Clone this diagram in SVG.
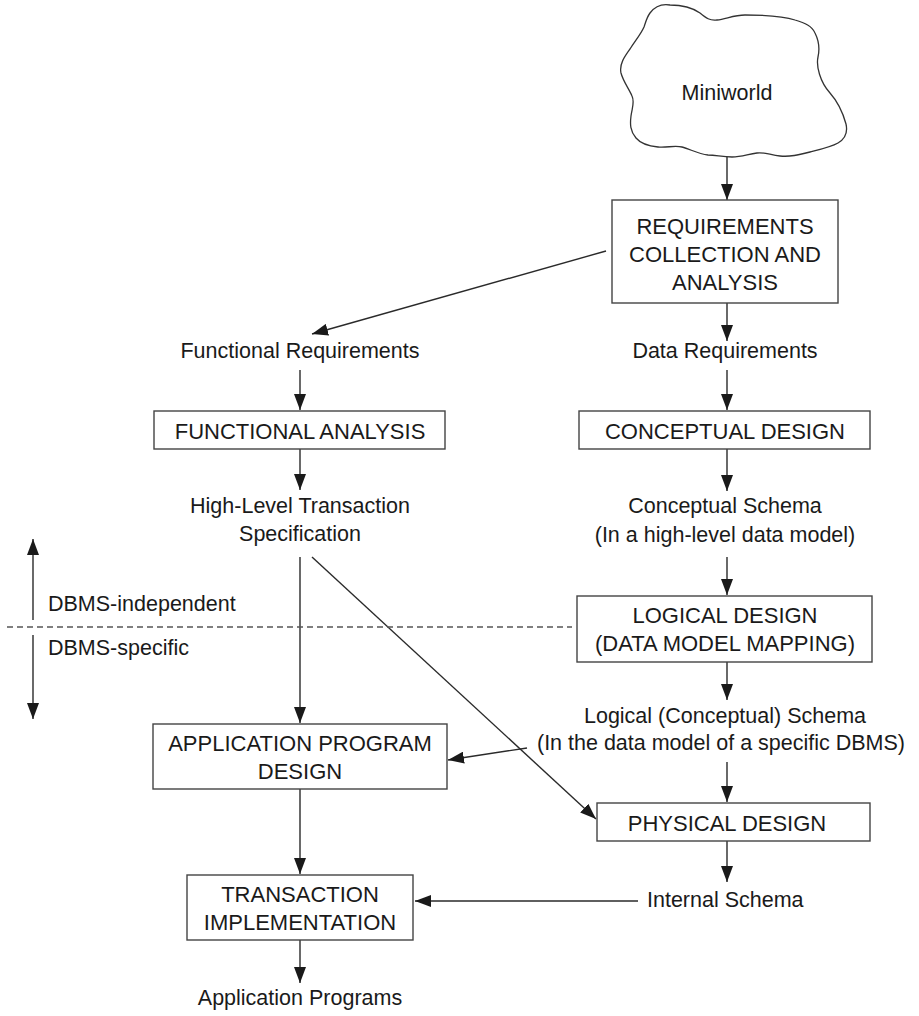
<svg xmlns="http://www.w3.org/2000/svg" width="919" height="1016" viewBox="0 0 919 1016">
<style>
  .box { fill: #ffffff; stroke: #444; stroke-width: 1.4; }
  .cloud { fill: #ffffff; stroke: #333; stroke-width: 1.3; }
  .up { font-family: "Liberation Sans", Arial, Helvetica, sans-serif; font-size: 22px; fill: #1a1a1a; text-anchor: middle; }
  .lo { font-family: "Liberation Sans", Arial, Helvetica, sans-serif; font-size: 21.5px; fill: #1a1a1a; text-anchor: middle; }
  .lt { font-family: "Liberation Sans", Arial, Helvetica, sans-serif; font-size: 21.5px; fill: #1a1a1a; text-anchor: start; }
  .arr { fill: none; stroke: #2a2a2a; stroke-width: 1.4; marker-end: url(#ah); }
  .dash { fill: none; stroke: #555; stroke-width: 1.4; stroke-dasharray: 6 4; }
</style>
<defs>
  <marker id="ah" viewBox="0 0 16 12" refX="16" refY="6" markerWidth="16" markerHeight="12" markerUnits="userSpaceOnUse" orient="auto">
    <path d="M0,0 L16,6 L0,12 z" fill="#1a1a1a"/>
  </marker>
</defs>
<rect width="919" height="1016" fill="#ffffff"/>

<g id="connectors">
  <line class="arr" x1="727" y1="157" x2="727" y2="200"/>
  <line class="arr" x1="606" y1="251" x2="312" y2="334"/>
  <line class="arr" x1="727" y1="303" x2="727" y2="341"/>
  <line class="arr" x1="300" y1="370" x2="300" y2="410"/>
  <line class="arr" x1="727" y1="370" x2="727" y2="410"/>
  <line class="arr" x1="300" y1="449" x2="300" y2="490"/>
  <line class="arr" x1="727" y1="449" x2="727" y2="491"/>
  <line class="arr" x1="727" y1="557" x2="727" y2="595"/>
  <line class="arr" x1="300" y1="557" x2="300" y2="723"/>
  <line class="arr" x1="312" y1="557" x2="596" y2="819"/>
  <line class="arr" x1="727" y1="662" x2="727" y2="700"/>
  <line class="arr" x1="527" y1="748" x2="448" y2="760"/>
  <line class="arr" x1="727" y1="762" x2="727" y2="802"/>
  <line class="arr" x1="300" y1="789" x2="300" y2="874"/>
  <line class="arr" x1="727" y1="841" x2="727" y2="882"/>
  <line class="arr" x1="638" y1="901" x2="415" y2="901"/>
  <line class="arr" x1="300" y1="940" x2="300" y2="983"/>
  <line class="dash" x1="7" y1="627" x2="572" y2="627"/>
  <line class="arr" x1="33" y1="620" x2="33" y2="539"/>
  <line class="arr" x1="33" y1="635" x2="33" y2="719"/>
</g>

<g id="miniworld">
  <path class="cloud" d="M650,13 C656,5 664,4 670,5 C680,5 690,6 700,13 C706,18 710,21 717,20 C726,19 734,15 745,15 C758,15 780,15 795,20 C805,23 812,26 815,33 C819,41 820,48 818,57 C816,66 820,82 830,93 C838,102 843,113 846,124 C848,133 845,139 838,143 C831,147 822,149 810,152 C798,155 790,157 780,156 C770,155 765,152 757,153 C748,154 742,157 732,157 C722,157 716,155 708,155 C698,154 690,149 682,147 C674,145 667,148 658,147 C648,146 641,144 636,138 C630,131 630,124 631,116 C632,108 635,102 632,96 C629,89 623,81 621,73 C619,64 625,56 630,49 C635,41 641,34 644,27 C646,21 647,17 650,13 Z"/>
  <text class="lo" x="727" y="100">Miniworld</text>
</g>

<g id="requirements">
  <rect class="box" x="612" y="200" width="226" height="103"/>
  <text class="up" x="725" y="234">REQUIREMENTS</text>
  <text class="up" x="725" y="262">COLLECTION AND</text>
  <text class="up" x="725" y="290">ANALYSIS</text>
</g>

<g id="functional-requirements">
  <text class="lo" x="300" y="358">Functional Requirements</text>
</g>

<g id="data-requirements">
  <text class="lo" x="725" y="358">Data Requirements</text>
</g>

<g id="functional-analysis">
  <rect class="box" x="154" y="411" width="291" height="38"/>
  <text class="up" x="300" y="439">FUNCTIONAL ANALYSIS</text>
</g>

<g id="conceptual-design">
  <rect class="box" x="579" y="411" width="291" height="38"/>
  <text class="up" x="725" y="439">CONCEPTUAL DESIGN</text>
</g>

<g id="transaction-spec">
  <text class="lo" x="300" y="513">High-Level Transaction</text>
  <text class="lo" x="300" y="541">Specification</text>
</g>

<g id="conceptual-schema">
  <text class="lo" x="725" y="513">Conceptual Schema</text>
  <text class="lo" x="725" y="542">(In a high-level data model)</text>
</g>

<g id="dbms-scope">
  <text class="lt" x="48" y="611">DBMS-independent</text>
  <text class="lt" x="48" y="655">DBMS-specific</text>
</g>

<g id="logical-design">
  <rect class="box" x="577" y="596" width="295" height="66"/>
  <text class="up" x="725" y="623">LOGICAL DESIGN</text>
  <text class="up" x="725" y="651">(DATA MODEL MAPPING)</text>
</g>

<g id="logical-schema">
  <text class="lo" x="725" y="723">Logical (Conceptual) Schema</text>
  <text class="lo" x="721" y="750">(In the data model of a specific DBMS)</text>
</g>

<g id="application-program-design">
  <rect class="box" x="153" y="724" width="294" height="65"/>
  <text class="up" x="300" y="751">APPLICATION PROGRAM</text>
  <text class="up" x="300" y="779">DESIGN</text>
</g>

<g id="physical-design">
  <rect class="box" x="597" y="803" width="273" height="38"/>
  <text class="up" x="727" y="831">PHYSICAL DESIGN</text>
</g>

<g id="internal-schema">
  <text class="lt" x="647" y="907">Internal Schema</text>
</g>

<g id="transaction-implementation">
  <rect class="box" x="187" y="875" width="226" height="65"/>
  <text class="up" x="300" y="902">TRANSACTION</text>
  <text class="up" x="300" y="930">IMPLEMENTATION</text>
</g>

<g id="application-programs">
  <text class="lo" x="300" y="1005">Application Programs</text>
</g>
</svg>
